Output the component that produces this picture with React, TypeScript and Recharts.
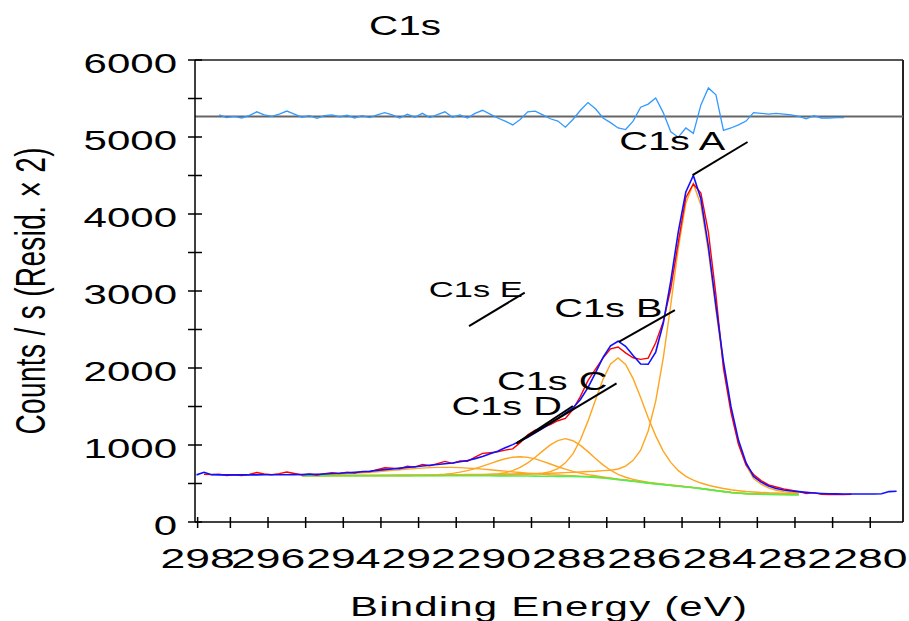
import React from 'react';
import { LineChart, Line, XAxis, YAxis, ReferenceLine, ReferenceDot } from 'recharts';

const FONT = '"Liberation Sans", Arial, Helvetica, sans-serif';

// Binding energy grid (eV)
const energies = [
  297.9, 297.7, 297.5, 297.3, 297.1, 296.9, 296.7, 296.5, 296.3, 296.1,
  295.9, 295.7, 295.5, 295.3, 295.1, 294.9, 294.7, 294.5, 294.3, 294.1,
  293.9, 293.7, 293.5, 293.3, 293.1, 292.9, 292.7, 292.5, 292.3, 292.1,
  291.9, 291.7, 291.5, 291.3, 291.1, 290.9, 290.7, 290.5, 290.3, 290.1,
  289.9, 289.7, 289.5, 289.3, 289.1, 288.9, 288.7, 288.5, 288.3, 288.1,
  287.9, 287.7, 287.5, 287.3, 287.1, 286.9, 286.7, 286.5, 286.3, 286.1,
  285.9, 285.7, 285.5, 285.3, 285.1, 284.9, 284.7, 284.5, 284.3, 284.1,
  283.9, 283.7, 283.5, 283.3, 283.1, 282.9, 282.7, 282.5, 282.3, 282.1,
  281.9, 281.7, 281.5, 281.3, 281.1, 280.9, 280.7, 280.5, 280.3, 280.1,
  279.9, 279.7, 279.5, 279.3,
];

// Fit envelope (blue), starts at energies[0]
const envelope = [
  612, 645, 615, 612, 612, 612, 612, 612, 612, 613, 613, 614, 614, 615,
  616, 618, 620, 624, 630, 633, 639, 645, 653, 660,
  670, 680, 689, 700, 709, 718, 728, 738, 746, 757,
  767, 782, 798, 823, 851, 885, 920, 963, 1005, 1051,
  1101, 1157, 1218, 1279, 1345, 1414, 1481, 1592, 1746, 1936,
  2138, 2288, 2348, 2282, 2163, 2052, 2048, 2207, 2577, 3129,
  3768, 4286, 4500, 4198, 3577, 2806, 2084, 1498, 1061, 770,
  592, 517, 467, 435, 415, 403, 394, 385, 377, 371,
  367, 365, 364, 363, 363, 363, 363, 366, 395, 400,
];

// Measured counts (red), starts at energies[1]
const rawStart = 1;
const rawCounts = [
  620, 615, 622, 604, 612, 602, 617, 642, 623, 613, 629, 649, 630,
  611, 623, 607, 629, 640, 630, 647, 635, 658, 652,
  680, 705, 699, 690, 724, 713, 748, 730, 759, 787,
  762, 792, 788, 843, 891, 900, 910, 933, 950, 1031,
  1131, 1192, 1228, 1264, 1315, 1344, 1461, 1632, 1836, 1986,
  2128, 2248, 2273, 2197, 2133, 2112, 2128, 2327, 2602, 3029,
  3633, 4211, 4390, 4273, 3762, 2946, 1994, 1423, 1006, 740,
  617, 537, 482, 455, 430, 413, 394, 370, 382, 361,
  357, 357, 356, 360,
];

// Residual x2, offset to 5267 (light blue), starts at energies[3]
const residStart = 3;
const residualZero = 5267;
const residual = [
  5287, 5252, 5267, 5247, 5277, 5327, 5287, 5267, 5297, 5337, 5297,
  5257, 5277, 5242, 5277, 5287, 5262, 5282, 5247, 5277, 5252,
  5287, 5317, 5287, 5247, 5297, 5257, 5307, 5252, 5292, 5327,
  5257, 5287, 5247, 5307, 5347, 5297, 5247, 5207, 5157, 5227,
  5327, 5337, 5287, 5237, 5207, 5127, 5227, 5347, 5447, 5367,
  5247, 5187, 5117, 5097, 5207, 5387, 5427, 5507, 5317, 5067,
  4997, 5117, 5047, 5417, 5637, 5547, 5087, 5117, 5157, 5207,
  5317, 5307, 5297, 5307, 5297, 5287, 5267, 5237, 5277, 5247,
  5247, 5252, 5252,
];

// Background and components, start at energies[14]
const compStart = 14;
const background = [
  600, 600, 600, 600, 600, 600, 600, 600, 600, 600,
  600, 600, 600, 600, 600, 600, 600, 600, 600, 600,
  600, 600, 600, 600, 600, 600, 599, 599, 598, 598,
  597, 596, 595, 594, 593, 592, 590, 588, 585, 579,
  571, 561, 550, 540, 530, 518, 505, 495, 485, 475,
  465, 455, 445, 433, 420, 407, 395, 383, 374, 368,
  364, 361, 359, 358, 357, 356, 355,
];
const compA = [
  606, 606, 606, 606, 607, 607, 607, 607, 608, 608,
  609, 609, 609, 610, 611, 611, 612, 612, 613, 614,
  615, 615, 616, 617, 618, 620, 621, 623, 624, 626,
  627, 629, 631, 633, 637, 641, 645, 650, 655, 659,
  667, 672, 689, 726, 801, 932, 1182, 1570, 2129, 2821,
  3558, 4140, 4395, 4118, 3513, 2753, 2039, 1458, 1024, 738,
  564, 491, 444, 413, 395, 384, 377,
];
const compB = [
  602, 602, 602, 602, 602, 602, 602, 603, 603, 603,
  603, 604, 604, 604, 604, 605, 605, 606, 606, 607,
  607, 608, 608, 609, 610, 611, 611, 613, 614, 617,
  619, 625, 634, 654, 694, 768, 884, 1068, 1310, 1585,
  1853, 2052, 2130, 2047, 1862, 1616, 1355, 1119, 921, 774,
  667, 593, 543, 506, 477, 455, 435, 418, 406, 396,
  389, 384, 379, 377, 374, 372, 369,
];
const compC = [
  601, 601, 601, 602, 602, 602, 602, 602, 602, 602,
  602, 602, 603, 603, 603, 603, 604, 604, 604, 605,
  605, 606, 607, 608, 611, 616, 623, 640, 667, 709,
  768, 841, 924, 1001, 1058, 1082, 1055, 995, 914, 824,
  742, 672, 619, 581, 554, 534, 516, 503, 492, 481,
  470, 460, 449, 437, 424, 410, 398, 386, 377, 370,
  366, 363, 361, 360, 359, 358, 357,
];
const compD = [
  601, 601, 601, 601, 602, 602, 602, 602, 602, 602,
  603, 603, 603, 604, 604, 605, 607, 610, 614, 621,
  631, 647, 667, 694, 725, 759, 792, 822, 841, 848,
  840, 819, 788, 753, 718, 686, 657, 635, 616, 600,
  585, 571, 557, 545, 534, 522, 508, 498, 488, 477,
  467, 457, 447, 435, 422, 408, 396, 384, 375, 369,
  365, 362, 360, 359, 358, 357, 356,
];
const compE = [
  606, 608, 610, 613, 617, 620, 626, 631, 638, 645,
  653, 662, 670, 679, 687, 694, 700, 706, 709, 710,
  709, 706, 700, 694, 687, 679, 669, 661, 651, 643,
  635, 627, 621, 614, 610, 605, 600, 596, 591, 584,
  575, 565, 553, 543, 532, 520, 507, 497, 487, 476,
  466, 456, 446, 434, 421, 408, 396, 384, 375, 369,
  364, 361, 359, 358, 357, 356, 355,
];

// Axis ticks
const xDomain: [number, number] = [279.13, 297.94];
const xTicks = [297.87, 297, 296, 295, 294, 293, 292, 291, 290, 289, 288, 287, 286, 285, 284, 283, 282, 281, 280];
const xTickLabels = ['298', '', '296', '', '294', '', '292', '', '290', '', '288', '', '286', '', '284', '', '282', '', '280'];
const yTicks = [0, 500, 1000, 1500, 2000, 2500, 3000, 3500, 4000, 4500, 5000, 5500, 6000];
const yTickLabels = ['0', '', '1000', '', '2000', '', '3000', '', '4000', '', '5000', '', '6000'];

// Peak annotations (data coordinates)
const annoText = ['C1s A', 'C1s B', 'C1s C', 'C1s D', 'C1s E'];
const annoTextBE = [285.26, 286.96, 288.45, 289.66, 290.48];
const annoTextCounts = [4831, 2662, 1714, 1390, 2926];
const leaderFromBE = [284.72, 286.68, 289.4, 289.4, 290.66];
const leaderFromCounts = [4506, 2338, 1022, 1022, 2545];
const leaderToBE = [283.26, 285.19, 286.74, 287.9, 289.18];
const leaderToCounts = [4935, 2753, 1801, 1506, 2978];

const at = (arr: number[], start: number, i: number): number | null => {
  const j = i - start;
  return j >= 0 && j < arr.length ? arr[j] : null;
};

const data = energies.map((be, i) => ({
  be,
  env: at(envelope, 0, i),
  raw: at(rawCounts, rawStart, i),
  resid: at(residual, residStart, i),
  bg: at(background, compStart, i),
  A: at(compA, compStart, i),
  B: at(compB, compStart, i),
  C: at(compC, compStart, i),
  D: at(compD, compStart, i),
  E: at(compE, compStart, i),
}));

const SX = 1.5;

const XTick = (props: any) => {
  const { x, y, payload } = props;
  const idx = xTicks.indexOf(payload.value);
  const label = idx >= 0 ? xTickLabels[idx] : '';
  return (
    <g>
      <line x1={x} x2={x} y1={y - 5} y2={y + 6} stroke="#000" strokeWidth={1.5} />
      {label ? (
        <text
          transform={`translate(${x},${y + 46}) scale(${SX},1)`}
          textAnchor="middle"
          fontSize={28}
          fontFamily={FONT}
          fill="#000"
          textLength={49.5}
          lengthAdjust="spacingAndGlyphs"
        >
          {label}
        </text>
      ) : null}
    </g>
  );
};

const YTick = (props: any) => {
  const { x, y, payload } = props;
  const idx = yTicks.indexOf(payload.value);
  const label = idx >= 0 ? yTickLabels[idx] : '';
  return (
    <g>
      <line x1={x - 7} x2={x + 7} y1={y} y2={y} stroke="#000" strokeWidth={1.5} />
      {label ? (
        <text transform={`translate(${x - 18},${y + 12.5}) scale(${SX},1)`} textAnchor="end" fontSize={28} fontFamily={FONT} fill="#000">
          {label}
        </text>
      ) : null}
    </g>
  );
};

const makeAnnoLabel = (text: string, size: number) => (props: any) => {
  const vb = props.viewBox || {};
  const cx = (vb.x ?? 0) + (vb.width ?? 0) / 2;
  const cy = (vb.y ?? 0) + (vb.height ?? 0) / 2;
  return (
    <text transform={`translate(${cx},${cy}) scale(${SX},1)`} textAnchor="middle" fontSize={size} fontFamily={FONT} fill="#000">
      {text}
    </text>
  );
};

const orange = '#ffa51f';

export default function App() {
  return (
    <div style={{ position: 'absolute', left: 0, top: 0, width: 909, height: 621, background: '#fff' }}>
      <LineChart width={909} height={621} data={data} margin={{ top: 60, right: 6, bottom: 0, left: 0 }}>
        <XAxis
          type="number"
          dataKey="be"
          domain={xDomain}
          allowDataOverflow
          reversed
          ticks={xTicks}
          interval={0}
          tick={<XTick />}
          tickLine={false}
          tickSize={0}
          tickMargin={0}
          height={99}
          axisLine={{ stroke: '#000', strokeWidth: 1.5 }}
        />
        <YAxis
          type="number"
          domain={[0, 6000]}
          allowDataOverflow
          ticks={yTicks}
          interval={0}
          tick={<YTick />}
          tickLine={false}
          tickSize={0}
          tickMargin={0}
          width={195}
          axisLine={{ stroke: '#000', strokeWidth: 1.5 }}
        />
        <ReferenceLine y={6000} stroke="#555" strokeWidth={2} />
        <ReferenceLine x={xDomain[0]} stroke="#222" strokeWidth={2} />
        <ReferenceLine y={residualZero} stroke="#666" strokeWidth={2} />

        <Line dataKey="E" stroke={orange} strokeWidth={1.4} dot={false} isAnimationActive={false} />
        <Line dataKey="D" stroke={orange} strokeWidth={1.4} dot={false} isAnimationActive={false} />
        <Line dataKey="C" stroke={orange} strokeWidth={1.4} dot={false} isAnimationActive={false} />
        <Line dataKey="B" stroke={orange} strokeWidth={1.4} dot={false} isAnimationActive={false} />
        <Line dataKey="A" stroke={orange} strokeWidth={1.4} dot={false} isAnimationActive={false} />
        <Line dataKey="bg" stroke="#4ef04e" strokeWidth={1.6} dot={false} isAnimationActive={false} />
        <Line dataKey="raw" stroke="#ff0000" strokeWidth={1.4} dot={false} isAnimationActive={false} />
        <Line dataKey="env" stroke="#1010ff" strokeWidth={1.6} dot={false} isAnimationActive={false} />
        <Line dataKey="resid" stroke="#3399ff" strokeWidth={1.3} dot={false} isAnimationActive={false} />

        {annoText.map((t, i) => (
          <ReferenceLine
            key={'l' + i}
            segment={[
              { x: leaderFromBE[i], y: leaderFromCounts[i] },
              { x: leaderToBE[i], y: leaderToCounts[i] },
            ]}
            stroke="#000"
            strokeWidth={2}
            ifOverflow="visible"
          />
        ))}
        {annoText.map((t, i) => (
          <ReferenceDot
            key={'t' + i}
            x={annoTextBE[i]}
            y={annoTextCounts[i]}
            r={0}
            fill="none"
            stroke="none"
            ifOverflow="visible"
            label={makeAnnoLabel(t, i === 4 ? 23 : 26.5)}
          />
        ))}
      </LineChart>
      <svg width={909} height={621} style={{ position: 'absolute', left: 0, top: 0, pointerEvents: 'none' }}>
        <text transform={`translate(369,35) scale(${SX},1)`} fontSize={27} fontFamily={FONT} fill="#000">C1s</text>
        <text transform={`translate(350,616) scale(${SX},1)`} fontSize={28} fontFamily={FONT} fill="#000" textLength={264.7} lengthAdjust="spacing">
          Binding Energy (eV)
        </text>
        <text transform="translate(45,291) rotate(-90) scale(1,1.5)" textAnchor="middle" fontSize={28} fontFamily={FONT} fill="#000" textLength={287} lengthAdjust="spacing">
          Counts / s  (Resid. × 2)
        </text>
      </svg>
    </div>
  );
}
